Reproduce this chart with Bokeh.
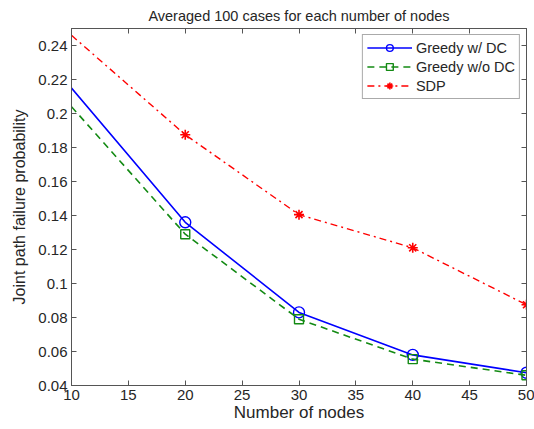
from bokeh.plotting import figure
from bokeh.models import FixedTicker, LinearAxis, Range1d, Legend
from bokeh.embed import file_html
from bokeh.resources import INLINE

nodes = [10, 20, 30, 40, 50]
greedy_dc = [0.215, 0.136, 0.083, 0.058, 0.0475]
greedy_wo_dc = [0.204, 0.129, 0.079, 0.0555, 0.046]
sdp = [0.246, 0.1875, 0.1405, 0.121, 0.0875]

x_ticks = [10, 15, 20, 25, 30, 35, 40, 45, 50]
y_ticks = [0.04, 0.06, 0.08, 0.1, 0.12, 0.14, 0.16, 0.18, 0.2, 0.22, 0.24]
y_tick_labels = ["0.04", "0.06", "0.08", "0.1", "0.12", "0.14", "0.16", "0.18", "0.2", "0.22", "0.24"]

FONT = "Liberation Sans"
AX = "#555555"
TXT = "#262626"

p = figure(width=534, height=429, output_backend="svg", toolbar_location=None,
           x_range=Range1d(10, 50), y_range=Range1d(0.04, 0.25),
           title="Averaged 100 cases for each number of nodes",
           min_border_left=71, min_border_right=8, min_border_top=28, min_border_bottom=44)
p.title.align = "center"
p.title.text_font = FONT
p.title.text_font_size = "14.5px"
p.title.text_font_style = "normal"
p.title.text_color = TXT
p.title.offset = 0
p.xgrid.visible = False
p.ygrid.visible = False
p.outline_line_color = AX
p.background_fill_color = "white"
p.border_fill_color = "white"

def style_axis(ax):
    ax.axis_line_color = AX
    ax.major_tick_line_color = AX
    ax.minor_tick_line_color = None
    ax.major_tick_in = 5
    ax.major_tick_out = 0
    ax.major_label_text_font = FONT
    ax.major_label_text_font_size = "15px"
    ax.major_label_text_color = TXT
    ax.axis_label_text_font = FONT
    ax.axis_label_text_font_style = "normal"
    ax.axis_label_text_color = TXT

xa = p.xaxis[0]
xa.ticker = FixedTicker(ticks=x_ticks)
xa.axis_label = "Number of nodes"
xa.axis_label_standoff = 0
xa.major_label_standoff = 4
style_axis(xa)
xa.axis_label_text_font_size = "17px"

ya = p.yaxis[0]
ya.ticker = FixedTicker(ticks=y_ticks)
ya.major_label_overrides = {t: l for t, l in zip(y_ticks, y_tick_labels)}
ya.axis_label = "Joint path failure probability"
ya.axis_label_standoff = 7
ya.major_label_standoff = 4
style_axis(ya)
ya.axis_label_text_font_size = "16px"

ra = LinearAxis(ticker=FixedTicker(ticks=y_ticks),
                major_label_overrides={t: "" for t in y_ticks})
style_axis(ra)
p.add_layout(ra, "right")
ta = LinearAxis(ticker=FixedTicker(ticks=x_ticks),
                major_label_overrides={t: "" for t in x_ticks})
style_axis(ta)
p.add_layout(ta, "above")

blue = "#0000ff"
green = "#138a13"
red = "#ff0000"

l1 = p.line(nodes, greedy_dc, line_color=blue, line_width=1.6)
m1 = p.scatter(nodes[1:], greedy_dc[1:], marker="circle", size=11, fill_color=None, line_color=blue, line_width=1.4)
l2 = p.line(nodes, greedy_wo_dc, line_color=green, line_width=1.6, line_dash="7 5")
m2 = p.scatter(nodes[1:], greedy_wo_dc[1:], marker="square", size=9, fill_color=None, line_color=green, line_width=1.4)
l3 = p.line(nodes, sdp, line_color=red, line_width=1.4, line_dash="7 4 2 4")
m3 = p.scatter(nodes[1:], sdp[1:], marker="asterisk", size=10, line_color=red, line_width=1.6)

legend = Legend(items=[("Greedy w/ DC", [l1, m1]), ("Greedy w/o DC", [l2, m2]), ("SDP", [l3, m3])],
                location="top_right")
legend.label_text_font = FONT
legend.label_text_font_size = "14.5px"
legend.label_text_color = TXT
legend.glyph_width = 45
legend.glyph_height = 17
legend.label_height = 17
legend.spacing = 2
legend.padding = 4
legend.margin = 6
legend.border_line_color = AX
legend.background_fill_alpha = 1.0
legend.label_standoff = 4
p.add_layout(legend, "center")

open("out.html", "w").write(file_html(p, INLINE))
